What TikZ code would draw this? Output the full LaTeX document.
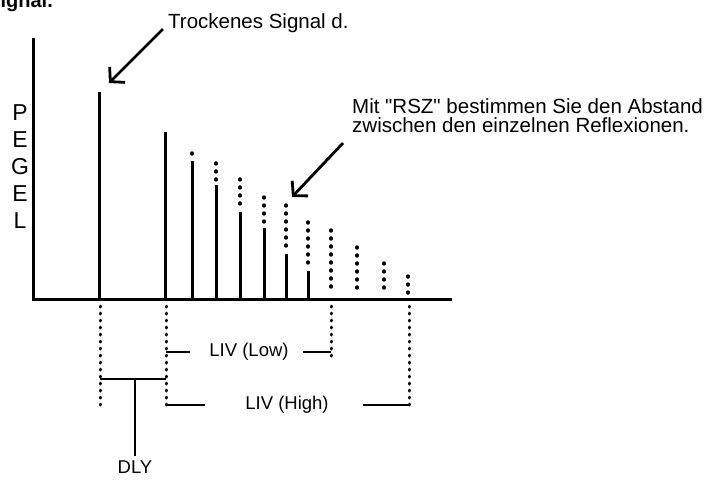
\documentclass[tikz,border=0pt]{standalone}
\usepackage{fontspec}
\setmainfont{Liberation Sans}[Ligatures=TeXOff]
\usetikzlibrary{arrows.meta}
\begin{document}
\begin{tikzpicture}[x=1pt,y=-1pt,
  solidbar/.style={line width=3pt},
  dotbar/.style={line width=3.4pt, line cap=round, dash pattern=on 1pt off 7pt},
  dotguide/.style={line width=3pt, line cap=round, dash pattern=on 1pt off 6pt},
  axisline/.style={line width=3pt},
  bracket/.style={line width=2.4pt},
  lbl/.style={font=\fontsize{20.5}{20.5}\selectfont, inner sep=0pt},
  sublbl/.style={font=\fontsize{18.5}{18.5}\selectfont, inner sep=0pt},
  letter/.style={font=\fontsize{23}{23}\selectfont, inner sep=0pt},
  pointer/.style={line width=2.8pt, -{Straight Barb[length=10pt,width=22pt,line width=2.8pt]}},
]
\useasboundingbox (0,0) rectangle (716,480);

% heading fragment at top-left (cut by the edge, as in the reference)
\node[font=\bfseries\fontsize{20}{20}\selectfont, anchor=base east, inner sep=0pt] (sig) at (53,7) {Signal.};

% axes
\coordinate (ytop) at (33,38);
\coordinate (origin) at (33,299);
\coordinate (xend) at (452,299);
\draw[axisline] (ytop) -- (origin) -- (xend);

% axis label
\node[letter] (l1) at (20,113) {P};
\node[letter] (l2) at (20,140) {E};
\node[letter] (l3) at (20,167) {G};
\node[letter] (l4) at (20,194) {E};
\node[letter] (l5) at (20,221) {L};

% solid-only bars
\foreach \i/\x/\s in {1/99/92, 2/165/132}{
  \coordinate (b\i) at (\x,\s);
  \coordinate (f\i) at (\x,299);
  \draw[solidbar] (b\i) -- (f\i);
}
% mixed bars: dotted top, solid lower part
\foreach \i/\x/\d/\s in {3/192/153/161, 4/216/163/185, 5/240/179/212, 6/264/197/228, 7/286/205/254, 8/308/222/271}{
  \coordinate (t\i) at (\x,\d);
  \coordinate (b\i) at (\x,\s);
  \coordinate (f\i) at (\x,299);
  \draw[dotbar] (t\i) -- (\x,\s-3);
  \draw[solidbar] (b\i) -- (f\i);
}
% dotted-only bars
\foreach \i/\x/\d in {9/331/230, 10/357/247, 11/384/263, 12/408/276}{
  \coordinate (t\i) at (\x,\d);
  \coordinate (f\i) at (\x,294);
  \draw[dotbar] (t\i) -- (f\i);
}

% pointer labels
\node[lbl, anchor=base west] (dry) at (168,28) {Trockenes Signal d.};
\coordinate (drystart) at (163,29);
\coordinate (drytip) at (109,83);
\draw[pointer] (drystart) -- (drytip);

\node[lbl, anchor=base west] (rsz1) at (352,113) {Mit "RSZ" bestimmen Sie den Abstand};
\node[lbl, anchor=base west] (rsz2) at (352,132) {zwischen den einzelnen Reflexionen.};
\coordinate (rszstart) at (343,143);
\coordinate (rsztip) at (292,197);
\draw[pointer] (rszstart) -- (rsztip);

% dotted guides below the axis
\coordinate (g1a) at (100,306); \coordinate (g1b) at (100,405);
\coordinate (g2a) at (166,306); \coordinate (g2b) at (166,405);
\coordinate (g3a) at (331,306); \coordinate (g3b) at (331,361);
\coordinate (g4a) at (409,306); \coordinate (g4b) at (409,405);
\draw[dotguide] (g1a) -- (g1b);
\draw[dotguide] (g2a) -- (g2b);
\draw[dotguide] (g3a) -- (g3b);
\draw[dotguide] (g4a) -- (g4b);

% DLY bracket
\coordinate (dlyL) at (100,379);
\coordinate (dlyR) at (166,379);
\coordinate (dlyM) at (135,379);
\node[sublbl, anchor=base, outer sep=4pt] (dly) at (135,473) {DLY};
\draw[bracket] (dlyL) -- (dlyR);
\draw[bracket] (dlyM) -- (dly.north);

% LIV (Low)
\node[sublbl] (low) at (249,352) {LIV (Low)};
\coordinate (lowA) at (166,352); \coordinate (lowB) at (190,352);
\coordinate (lowC) at (303,352); \coordinate (lowD) at (331,352);
\draw[bracket] (lowA) -- (lowB);
\draw[bracket] (lowC) -- (lowD);

% LIV (High)
\node[sublbl] (high) at (287,405) {LIV (High)};
\coordinate (highA) at (166,405); \coordinate (highB) at (205,405);
\coordinate (highC) at (363,405); \coordinate (highD) at (409,405);
\draw[bracket] (highA) -- (highB);
\draw[bracket] (highC) -- (highD);
\end{tikzpicture}
\end{document}
